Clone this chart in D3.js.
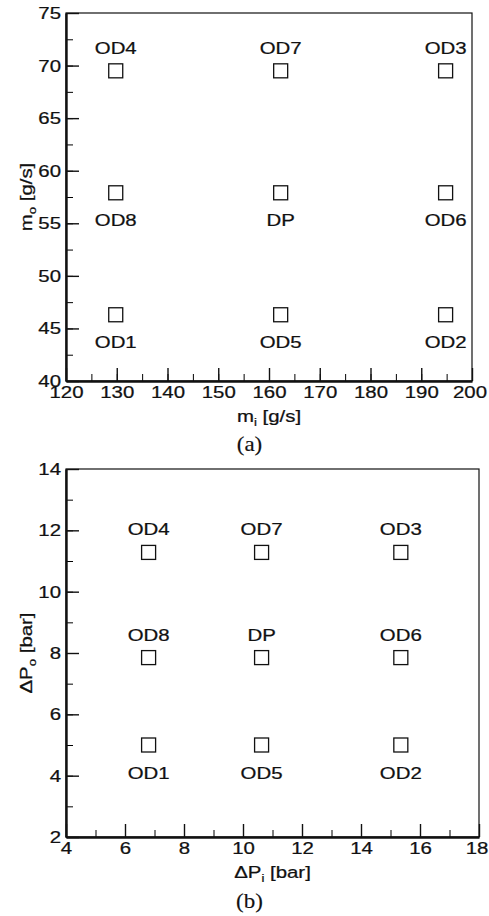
<!DOCTYPE html>
<html>
<head>
<meta charset="utf-8">
<title>Operating points</title>
<style>
  body { margin: 0; background: #fff; }
  svg { display: block; }
  text { font-family: Arial, "Liberation Sans", sans-serif; fill: #111; stroke: #111; stroke-width: 0.25; }
  .caption { font-family: "Times New Roman", "Liberation Serif", serif; }
</style>
</head>
<body>
<svg id="chart" width="489" height="916"></svg>
<script src="https://cdn.jsdelivr.net/npm/d3@7"></script>
<script>
// design / off-design points
const pointNames = ["OD1", "OD5", "OD2", "OD8", "DP", "OD6", "OD4", "OD7", "OD3"];
const miValues  = [129.8, 162.3, 194.8, 129.8, 162.3, 194.8, 129.8, 162.3, 194.8];
const moValues  = [46.3, 46.3, 46.3, 57.9, 57.9, 57.9, 69.5, 69.5, 69.5];
const dPiValues = [6.8, 10.63, 15.35, 6.8, 10.63, 15.35, 6.8, 10.63, 15.35];
const dPoValues = [5.0, 5.0, 5.0, 7.85, 7.85, 7.85, 11.28, 11.28, 11.28];
// label above (1) or below (0) the marker
const labelAboveA = [0, 0, 0, 0, 0, 0, 1, 1, 1];
const labelAboveB = [0, 0, 0, 1, 1, 1, 1, 1, 1];

const xTicksA = [120, 130, 140, 150, 160, 170, 180, 190, 200];
const yTicksA = [40, 45, 50, 55, 60, 65, 70, 75];
const xTicksB = [4, 6, 8, 10, 12, 14, 16, 18];
const yTicksB = [2, 4, 6, 8, 10, 12, 14];

const svg = d3.select("#chart");
const SX = 1.2; // the original figure text is horizontally stretched
const fs = 17;

function stretchText(sel, shiftLast) {
  const n = sel.size();
  sel.each(function(d, i) {
    const t = d3.select(this);
    const x = (+t.attr("x") || 0) + (shiftLast && i === n - 1 ? -2.5 : 0);
    t.attr("x", 0).attr("transform", `translate(${x},0) scale(${SX},1)`);
  });
}

function panel(opt) {
  const g = svg.append("g");
  const x = d3.scaleLinear().domain(opt.xDomain).range([opt.left, opt.right]);
  const y = d3.scaleLinear().domain(opt.yDomain).range([opt.bottom, opt.top]);

  // thin frame (top / right)
  g.append("rect")
    .attr("x", opt.left).attr("y", opt.top)
    .attr("width", opt.right - opt.left).attr("height", opt.bottom - opt.top)
    .attr("fill", "none").attr("stroke", "#111").attr("stroke-width", 1.2);

  // minor ticks
  const minorX = d3.range(opt.xDomain[0], opt.xDomain[1] + 1e-9, opt.xMinor);
  const minorY = d3.range(opt.yDomain[0], opt.yDomain[1] + 1e-9, opt.yMinor);
  g.append("g").attr("transform", `translate(0,${opt.bottom})`)
    .call(d3.axisBottom(x).tickValues(minorX).tickSize(-7).tickFormat(""))
    .call(a => a.select(".domain").remove());
  g.append("g").attr("transform", `translate(${opt.left},0)`)
    .call(d3.axisLeft(y).tickValues(minorY).tickSize(-7).tickFormat(""))
    .call(a => a.select(".domain").remove());

  // major axes
  const xa = g.append("g").attr("transform", `translate(0,${opt.bottom})`)
    .call(d3.axisBottom(x).tickValues(opt.xTicks).tickSize(-13).tickSizeOuter(0).tickPadding(5).tickFormat(d3.format("d")));
  const ya = g.append("g").attr("transform", `translate(${opt.left},0)`)
    .call(d3.axisLeft(y).tickValues(opt.yTicks).tickSize(-13).tickSizeOuter(0).tickPadding(5).tickFormat(d3.format("d")));

  [xa, ya].forEach(a => {
    a.select(".domain").attr("stroke", "#111").attr("stroke-width", 2.4);
    a.selectAll(".tick line").attr("stroke", "#111").attr("stroke-width", 1.4);
    a.selectAll("text").attr("font-size", fs).attr("fill", "#111")
      .style("font-family", "Arial, 'Liberation Sans', sans-serif");
  });
  stretchText(xa.selectAll("text"), true);
  stretchText(ya.selectAll("text"), false);

  // markers
  const pts = pointNames.map((n, i) => ({
    name: n, xv: opt.xs[i], yv: opt.ys[i], above: opt.above[i]
  }));
  g.selectAll("rect.pt").data(pts).join("rect")
    .attr("class", "pt")
    .attr("x", d => x(d.xv) - 7).attr("y", d => y(d.yv) - 7)
    .attr("width", 14).attr("height", 14)
    .attr("fill", "none").attr("stroke", "#111").attr("stroke-width", 1.3);

  g.selectAll("text.lbl").data(pts).join("text")
    .attr("class", "lbl")
    .attr("font-size", fs)
    .attr("text-anchor", "middle")
    .attr("transform", d => `translate(${x(d.xv)},${y(d.yv) + (d.above ? -17 : 33.5)}) scale(${SX},1)`)
    .text(d => d.name);

  // x axis title
  const xt = g.append("text")
    .attr("font-size", fs).attr("text-anchor", "middle")
    .attr("transform", `translate(${(opt.left + opt.right) / 2},${opt.bottom + 41}) scale(${SX},1)`);
  xt.append("tspan").text(opt.xMain);
  xt.append("tspan").attr("font-size", 11).attr("dy", 4).text(opt.xSub);
  xt.append("tspan").attr("dy", -4).text(" [" + opt.unit + "]");

  // y axis title
  const yt = g.append("text")
    .attr("font-size", fs).attr("text-anchor", "middle")
    .attr("transform", `translate(32,${(opt.top + opt.bottom) / 2}) rotate(-90) scale(${SX},1)`);
  yt.append("tspan").text(opt.yMain);
  yt.append("tspan").attr("font-size", 11).attr("dy", 4).text(opt.ySub);
  yt.append("tspan").attr("dy", -4).text(" [" + opt.unit + "]");

  // caption
  svg.append("text").attr("class", "caption")
    .attr("font-size", 20).attr("text-anchor", "middle").style("stroke-width", 0.15)
    .attr("transform", `translate(${opt.capX},${opt.bottom + opt.capDy}) scale(1.15,1)`)
    .text(opt.caption);
}

panel({
  left: 66, right: 472, top: 13, bottom: 381,
  xDomain: [120, 200], yDomain: [40, 75], xMinor: 5, yMinor: 2.5,
  xTicks: xTicksA, yTicks: yTicksA,
  xs: miValues, ys: moValues, above: labelAboveA,
  xMain: "m", xSub: "i", yMain: "m", ySub: "o", unit: "g/s",
  caption: "(a)", capX: 249.5, capDy: 70
});

panel({
  left: 66, right: 479, top: 469, bottom: 837,
  xDomain: [4, 18], yDomain: [2, 14], xMinor: 1, yMinor: 1,
  xTicks: xTicksB, yTicks: yTicksB,
  xs: dPiValues, ys: dPoValues, above: labelAboveB,
  xMain: "ΔP", xSub: "i", yMain: "ΔP", ySub: "o", unit: "bar",
  caption: "(b)", capX: 249.5, capDy: 71
});
</script>
</body>
</html>
